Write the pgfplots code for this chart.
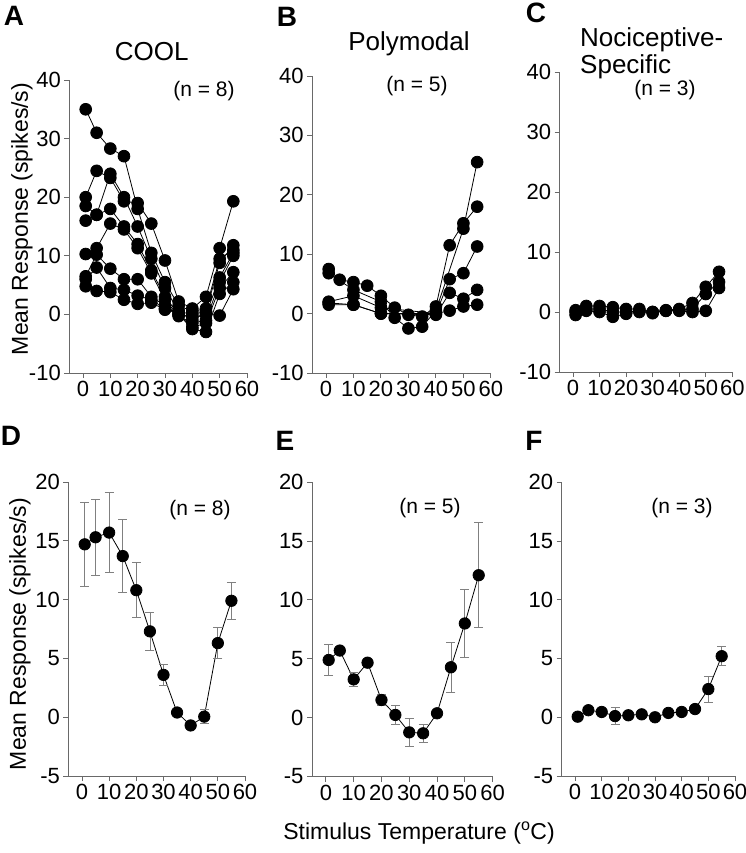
\documentclass[border=0pt]{standalone}
\usepackage{fontspec}
\setmainfont{Liberation Sans}
\usepackage{pgfplots}
\pgfplotsset{compat=1.18}

\definecolor{axgray}{RGB}{105,105,105}

\pgfplotsset{
  panel/.style={
    scale only axis,
    axis x line=bottom, axis y line=left,
    axis line style={-, draw=axgray, line width=0.9pt},
    tick style={draw=axgray, line width=0.9pt},
    tick align=outside, major tick length=5pt,
    xmin=-5, xmax=60, xtick={0,10,...,60},
    ticklabel style={font=\fontsize{22}{22}\selectfont},
    /pgf/number format/assume math mode=true,
    clip=false,
  },
  toprow/.style={panel, ymin=-10, ymax=40, ytick={-10,0,...,40}},
  botrow/.style={panel, ymin=-5, ymax=20, ytick={-5,0,...,20}},
  indiv/.style={black, line width=0.8pt, mark=*, mark size=5.9pt,
    mark options={solid, fill=black}},
  mean/.style={black, line width=0.8pt, mark=*, mark size=5.7pt,
    mark options={solid, fill=black},
    error bars/.cd, y dir=both, y explicit,
    error bar style={draw=gray, line width=0.8pt},
    error mark options={rotate=90, draw=gray, line width=0.8pt, mark size=4.5pt}},
}

\begin{document}
\begin{tikzpicture}
\useasboundingbox (0,0) rectangle (746pt,-853pt);

% A: COOL, individual cells
\begin{axis}[toprow, at={(69.3pt,-373pt)}, anchor=south west,
  width=177.7pt, height=293pt]
\addplot[indiv] coordinates {(1,35)(5,31)(10,28.3)(15,27)(20,18)(25,10.5)(30,5.5)(35,1.5)(40,0.5)(45,1)(50,9.5)(55,11)};
\addplot[indiv] coordinates {(1,20)(5,24.5)(10,23.3)(15,19.3)(20,19)(25,15.5)(30,9.2)(35,2.2)(40,1)(45,3)(50,11.3)(55,19.3)};
\addplot[indiv] coordinates {(1,18.5)(5,17)(10,24)(15,20)(20,15)(25,9.5)(30,4.5)(35,0.5)(40,0)(45,0.5)(50,8.8)(55,11.8)};
\addplot[indiv] coordinates {(1,16)(5,17)(10,18)(15,15)(20,12)(25,7.5)(30,3)(35,0)(40,-0.5)(45,0)(50,6.3)(55,10.5)};
\addplot[indiv] coordinates {(1,10.3)(5,11.3)(10,15.5)(15,14.5)(20,11.3)(25,7)(30,2.5)(35,-0.3)(40,-1.5)(45,-1)(50,5.5)(55,10)};
\addplot[indiv] coordinates {(1,6.5)(5,10.2)(10,7.8)(15,6)(20,6)(25,3)(30,1.5)(35,0)(40,-2.2)(45,-1.5)(50,4.5)(55,7.2)};
\addplot[indiv] coordinates {(1,6)(5,8)(10,4.5)(15,4.2)(20,3.2)(25,2.5)(30,1)(35,0)(40,-2.5)(45,-3)(50,3.5)(55,5.5)};
\addplot[indiv] coordinates {(1,4.8)(5,4)(10,3.8)(15,2.5)(20,1.8)(25,2)(30,0.8)(35,0.5)(40,-1)(45,0.3)(50,-0.2)(55,4.3)};
\end{axis}

% B: Polymodal
\begin{axis}[toprow, at={(312.2pt,-373pt)}, anchor=south west,
  width=178.7pt, height=297pt]
\addplot[indiv] coordinates {(1,7.5)(5,5.7)(10,5.3)(15,4.7)(20,3)(25,1)(30,-0.2)(35,-0.5)(40,1.2)(45,11.5)(50,15.2)(55,18)};
\addplot[indiv] coordinates {(1,6.8)(10,4)(20,2)(25,-0.7)(30,-2.5)(35,-2.2)(40,0.5)(50,14.3)(55,25.5)};
\addplot[indiv] coordinates {(1,2)(10,3)(20,1)(40,0)(45,5.8)(50,6.8)(55,11.3)};
\addplot[indiv] coordinates {(1,1.8)(10,1.5)(20,0)(40,-0.2)(45,3.5)(50,2.5)(55,4)};
\addplot[indiv] coordinates {(1,1.5)(10,1.5)(20,0)(40,0)(45,0.5)(50,1.2)(55,1.5)};
\end{axis}

% C: Nociceptive-specific
\begin{axis}[toprow, at={(559.7pt,-372pt)}, anchor=south west,
  width=172.6pt, height=300pt]
\addplot[indiv] coordinates {(1,0.3)(5,1)(10,1)(15,0.8)(20,0.5)(25,0.5)(30,0)(35,0.3)(40,0.5)(45,1.5)(50,4.2)(55,6.7)};
\addplot[indiv] coordinates {(1,0)(5,0.5)(10,0.5)(15,0)(20,0)(25,0.2)(30,-0.2)(35,0.2)(40,0.3)(45,0.5)(50,3)(55,5)};
\addplot[indiv] coordinates {(1,-0.5)(5,0.2)(10,0)(15,-0.8)(20,-0.3)(25,0)(30,0)(35,0.2)(40,0.2)(45,0)(50,0.2)(55,4)};
\end{axis}

% D: COOL mean
\begin{axis}[botrow, at={(68.4pt,-776pt)}, anchor=south west,
  width=176.6pt, height=294pt]
\addplot[mean] coordinates {
  (1,14.7) +- (0,3.6)
  (5,15.3) +- (0,3.2)
  (10,15.7) +- (0,3.4)
  (15,13.7) +- (0,3.1)
  (20,10.8) +- (0,2.35)
  (25,7.3) +- (0,1.65)
  (30,3.6) +- (0,0.9)
  (35,0.4) +- (0,0)
  (40,-0.7) +- (0,0)
  (45,0.05) +- (0,0.6)
  (50,6.3) +- (0,1.3)
  (55,9.9) +- (0,1.6)
};
\end{axis}

% E: Polymodal mean
\begin{axis}[botrow, at={(312pt,-776.5pt)}, anchor=south west,
  width=180.6pt, height=294.3pt]
\addplot[mean] coordinates {
  (1,4.9) +- (0,1.35)
  (5,5.7) +- (0,0)
  (10,3.25) +- (0,0.6)
  (15,4.67) +- (0,0)
  (20,1.5) +- (0,0.5)
  (25,0.23) +- (0,0.8)
  (30,-1.25) +- (0,1.15)
  (35,-1.33) +- (0,0.78)
  (40,0.37) +- (0,0)
  (45,4.28) +- (0,2.15)
  (50,8.0) +- (0,2.9)
  (55,12.1) +- (0,4.45)
};
\end{axis}

% F: Nociceptive-specific mean
\begin{axis}[botrow, at={(561.7pt,-776pt)}, anchor=south west,
  width=173.3pt, height=293.7pt]
\addplot[mean] coordinates {
  (1,0.05) +- (0,0)
  (5,0.6) +- (0,0)
  (10,0.45) +- (0,0)
  (15,0.1) +- (0,0.7)
  (20,0.17) +- (0,0)
  (25,0.25) +- (0,0)
  (30,0.0) +- (0,0)
  (35,0.37) +- (0,0)
  (40,0.45) +- (0,0)
  (45,0.7) +- (0,0)
  (50,2.4) +- (0,1.1)
  (55,5.2) +- (0,0.8)
};
\end{axis}

% panel letters
\begin{scope}[every node/.style={font=\fontsize{28}{28}\selectfont\bfseries, inner sep=0pt}]
\node at (14pt,-16pt) {A};
\node at (287pt,-17pt) {B};
\node at (536pt,-13pt) {C};
\node at (11pt,-436pt) {D};
\node at (285pt,-441pt) {E};
\node at (534pt,-441pt) {F};
\end{scope}

% column titles
\begin{scope}[every node/.style={font=\fontsize{26}{30}\selectfont, inner sep=0pt}]
\node[anchor=base] at (151.7pt,-61pt) {COOL};
\node[anchor=base] at (409pt,-51pt) {Polymodal};
\node[anchor=base west] at (580pt,-47pt) {Nociceptive-};
\node[anchor=base west] at (580pt,-74pt) {Specific};
\end{scope}

% sample sizes
\begin{scope}[every node/.style={font=\fontsize{21}{21}\selectfont, inner sep=0pt}]
\node at (204pt,-91pt) {(n = 8)};
\node at (417pt,-86pt) {(n = 5)};
\node at (665pt,-90pt) {(n = 3)};
\node at (200pt,-510pt) {(n = 8)};
\node at (430pt,-508pt) {(n = 5)};
\node at (682pt,-508pt) {(n = 3)};
\end{scope}

% axis titles
\begin{scope}[every node/.style={font=\fontsize{23}{23}\selectfont, inner sep=0pt}]
\node[rotate=90] at (22pt,-219pt) {Mean Response (spikes/s)};
\node[rotate=90] at (20pt,-634pt) {Mean Response (spikes/s)};
\node at (419pt,-833pt) {Stimulus Temperature (\textsuperscript{o}C)};
\end{scope}
\end{tikzpicture}
\end{document}
